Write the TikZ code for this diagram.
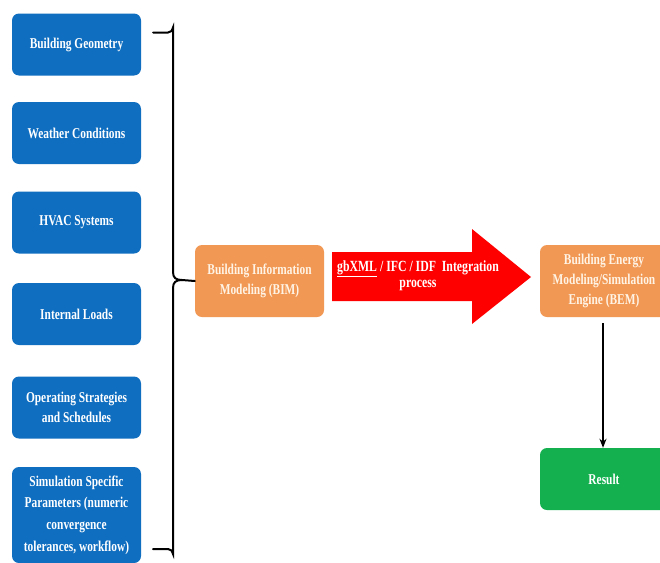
\documentclass[tikz,border=0pt]{standalone}
\usepackage{fontspec}
\setmainfont{Liberation Serif}[FakeStretch=0.76]
\usetikzlibrary{arrows.meta}
\definecolor{boxblue}{RGB}{16,110,192}
\definecolor{boxorange}{RGB}{241,152,84}
\definecolor{boxgreen}{RGB}{20,176,80}
\definecolor{textcream}{RGB}{255,244,230}
\tikzset{
  bluebox/.style={draw=none, fill=boxblue, rounded corners=7pt, minimum width=129pt, text=white, align=center, font=\bfseries\fontsize{15}{20.5}\selectfont, inner sep=1pt},
  orangebox/.style={draw=none, fill=boxorange, rounded corners=7pt, text=textcream, align=center, font=\bfseries\fontsize{15}{20}\selectfont, inner sep=1pt},
  greenbox/.style={draw=none, fill=boxgreen, rounded corners=7pt, text=white, align=center, font=\bfseries\fontsize{15}{20}\selectfont, inner sep=1pt},
  bracket/.style={line width=2pt, line cap=round},
  connector/.style={line width=1.6pt, -{Stealth[length=9pt,width=7pt]}}
}
\begin{document}
\begin{tikzpicture}[x=1pt,y=-1pt]
\clip (0,0) rectangle (660,562);
\fill[white] (0,0) rectangle (660,562);
% left input boxes
\node[bluebox, minimum height=62pt] (geo) at (76.5,44.5) {Building Geometry};
\node[bluebox, minimum height=62pt] (wea) at (76.5,133) {Weather Conditions};
\node[bluebox, minimum height=62pt] (hvac) at (76.5,222.5) {HVAC Systems};
\node[bluebox, minimum height=62pt] (load) at (76.5,314) {Internal Loads};
\node[bluebox, minimum height=62pt] (ops) at (76.5,407.5) {Operating Strategies\\and Schedules};
\node[bluebox, minimum height=96pt, font=\bfseries\fontsize{15}{21.7}\selectfont] (sim) at (76.5,515) {Simulation Specific\\Parameters (numeric\\convergence\\tolerances, workflow)};
% BIM box
\node[orangebox, minimum width=129pt, minimum height=72pt] (bim) at (259.5,281) {Building Information\\Modeling (BIM)};
% BEM box
\node[orangebox, minimum width=128pt, minimum height=72pt] (bem) at (604,281) {Building Energy\\Modeling/Simulation\\Engine (BEM)};
% Result box
\node[greenbox, minimum width=128pt, minimum height=62pt] (res) at (604,479) {Result};
% brace
\coordinate (bt) at (153,32.5);
\coordinate (bb) at (153,549);
\coordinate (tip) at (bim.west);
\draw[bracket] (bt) -- (168,32.5) arc[start angle=90, end angle=0, radius=5] -- (173,272)
  .. controls (173,278) and (176,280) .. (182,280) -- (tip);
\draw[bracket] (bb) -- (168,549) arc[start angle=270, end angle=360, radius=5] -- (173,288)
  .. controls (173,282) and (176,280) .. (182,280);
% red block arrow
\fill[red] (332,252) -- (472,252) -- (472,229) -- (531,277) -- (472,324) -- (472,301) -- (332,301) -- cycle;
\node[text=white, align=center, font=\bfseries\fontsize{15.5}{16}\selectfont, inner sep=0pt] (gbx) at (418,276) {\underline{gbXML} / IFC / IDF\ \ Integration\\process};
% arrow BEM -> Result
\coordinate (bemout) at (603,323);
\draw[connector] (bemout) -- (res.north -| bemout);
\end{tikzpicture}
\end{document}
